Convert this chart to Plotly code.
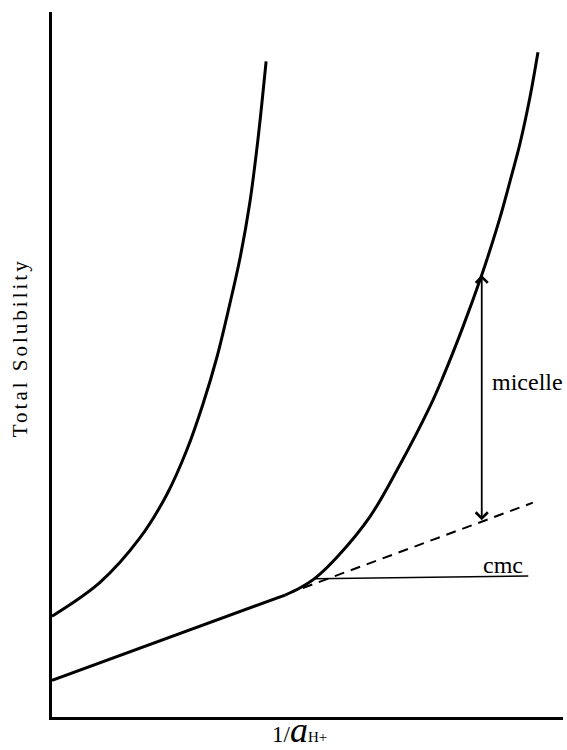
import plotly.graph_objects as go

# Curve rising steeply from the y axis (more soluble species)
upper_x = [0.0, 0.94, 1.72, 2.25, 2.64, 2.95, 3.23, 3.48, 3.68, 3.87, 4.03, 4.19]
upper_y = [1.43, 1.91, 2.54, 3.16, 3.79, 4.43, 5.11, 5.86, 6.51, 7.29, 8.19, 9.30]

# Total solubility below the cmc (monomer only, straight line)
linear_x = [0.0, 4.56]
linear_y = [0.52, 1.73]

# Total solubility above the cmc, rising with micelle formation
rise_x = [4.56, 4.85, 5.15, 5.58, 6.22, 6.75, 7.40, 7.65, 8.04,
          8.41, 8.57, 8.77, 8.96, 9.16, 9.35, 9.51]
rise_y = [1.73, 1.83, 1.97, 2.27, 2.84, 3.50, 4.41, 4.82, 5.53,
          6.27, 6.62, 7.09, 7.59, 8.14, 8.78, 9.43]

# Extrapolation of the linear (monomer-only) part
dashed_x = [4.91, 9.41]
dashed_y = [1.83, 3.04]

# cmc level
cmc_x = [5.15, 9.32]
cmc_y = [1.96, 2.00]

# Micellar contribution at one abscissa
micelle_x = 8.41
micelle_low = 2.77
micelle_high = 6.27

FONT = "Liberation Serif"
thick = dict(color="black", width=3)

fig = go.Figure()
fig.add_trace(go.Scatter(x=upper_x, y=upper_y, mode="lines",
                         line=dict(thick, shape="spline", smoothing=1.0)))
fig.add_trace(go.Scatter(x=linear_x, y=linear_y, mode="lines", line=thick))
fig.add_trace(go.Scatter(x=rise_x, y=rise_y, mode="lines",
                         line=dict(thick, shape="spline", smoothing=1.0)))
fig.add_trace(go.Scatter(x=dashed_x, y=dashed_y, mode="lines",
                         line=dict(color="black", width=2, dash="10px,7px")))
fig.add_trace(go.Scatter(x=cmc_x, y=cmc_y, mode="lines",
                         line=dict(color="black", width=1.6)))

annotations = [
    dict(x=micelle_x, y=micelle_high, ax=micelle_x, ay=micelle_low,
         xref="x", yref="y", axref="x", ayref="y", text="", showarrow=True,
         arrowhead=4, startarrowhead=4, arrowside="end+start",
         arrowsize=1.3, startarrowsize=1.3, arrowwidth=1.8, arrowcolor="black"),
    dict(x=micelle_x + 0.16, y=(micelle_low + micelle_high) / 2 + 0.23,
         xref="x", yref="y", text="micelle", showarrow=False,
         xanchor="left", yanchor="middle",
         font=dict(family=FONT, size=24, color="black")),
    dict(x=8.83, y=2.16, xref="x", yref="y", text="cmc", showarrow=False,
         xanchor="center", yanchor="middle",
         font=dict(family=FONT, size=24, color="black")),
    dict(x=-0.0626, y=0.523, xref="paper", yref="paper",
         text='<span style="letter-spacing:3px">Total Solubility</span>',
         showarrow=False, textangle=-90, xanchor="center", yanchor="middle",
         font=dict(family=FONT, size=21, color="black")),
    dict(x=0.485, y=-0.0185, xref="paper", yref="paper",
         text='1/<i><span style="font-size:36px;color:black">a</span></i>'
              '<span style="font-size:15px;color:black">H+</span>',
         showarrow=False, xanchor="center", yanchor="middle",
         font=dict(family=FONT, size=23, color="black")),
]

fig.update_layout(
    width=567, height=750,
    margin=dict(l=52, r=4, t=12, b=33),
    paper_bgcolor="white", plot_bgcolor="white",
    showlegend=False,
    annotations=annotations,
    xaxis=dict(range=[0, 10], showgrid=False, zeroline=False, showticklabels=False,
               ticks="", showline=True, linecolor="black", linewidth=3),
    yaxis=dict(range=[0, 10], showgrid=False, zeroline=False, showticklabels=False,
               ticks="", showline=True, linecolor="black", linewidth=3),
)

fig.write_html("out.html")
